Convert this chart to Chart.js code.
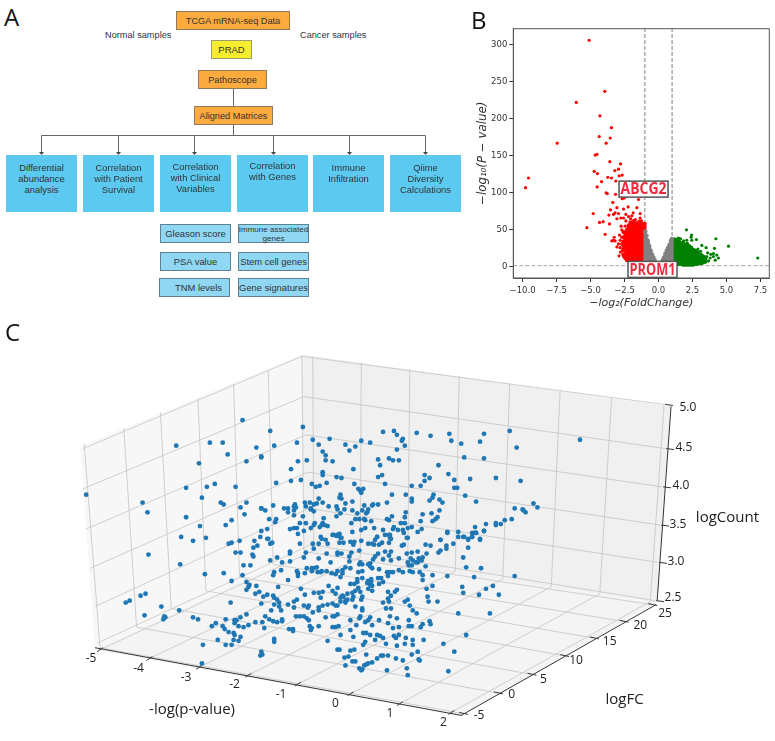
<!DOCTYPE html>
<html>
<head>
<meta charset="utf-8">
<title>Panels</title>
<script src="https://cdn.jsdelivr.net/npm/chart.js@4"></script>
<style>
  html, body { margin: 0; padding: 0; background: #fff; }
  #page { position: relative; width: 775px; height: 741px; overflow: hidden; font-family: "Liberation Sans", sans-serif; color: #333; }
  #page canvas { position: absolute; }
  .letter { position: absolute; font: 24px/24px "Open Sans", sans-serif; color: #111; }
  .box { position: absolute; box-sizing: border-box; display: flex; align-items: center; justify-content: center; text-align: center; white-space: nowrap; }
  .orange { background: #fdaa3e; border: 1px solid #8f7a5c; font-size: 9.2px; }
  .yellow { background: #f6ee2c; border: 1px solid #9c9c70; font-size: 9.5px; }
  .blue { background: #5bc9f0; font-size: 9.4px; line-height: 11px; align-items: flex-start; }
  .pale { background: #8fd7f3; border: 1px solid #5e8090; font-size: 9.4px; line-height: 9px; }
  .tiny { font-size: 8px; }
  .note { position: absolute; font-size: 9.2px; white-space: nowrap; }
  #links { position: absolute; left: 0; top: 0; }
</style>
</head>
<body>
<div id="page">
  <svg id="links" width="470" height="160"></svg>
  <canvas id="volcano" width="315" height="290" style="left:460px;top:20px"></canvas>
  <canvas id="cloud" width="775" height="421" style="left:0;top:320px"></canvas>
  <div class="letter" style="left:4px;top:5px">A</div>
  <div class="letter" style="left:471px;top:8px">B</div>
  <div class="letter" style="left:5px;top:320px">C</div>
</div>

<script>
/* ---------- Panel A: flow chart ---------- */
const flowTop = ['TCGA mRNA-seq Data', 'PRAD', 'Pathoscope', 'Aligned Matrices'];
const flowNotes = ['Normal samples', 'Cancer samples'];
const flowAnalyses = [
  'Differential<br>abundance<br>analysis',
  'Correlation<br>with Patient<br>Survival',
  'Correlation<br>with Clinical<br>Variables',
  'Correlation<br>with Genes',
  'Immune<br>Infiltration',
  'Qiime<br>Diversity<br>Calculations'
];
const flowClinical = ['Gleason score', 'PSA value', 'TNM levels'];
const flowGenes = ['Immune associated<br>genes', 'Stem cell genes', 'Gene signatures'];

/* ---------- Panel B: volcano values ---------- */
const xTickStep = 2.5;
const yTickStep = 50;
const foldCut = [-1, 1];
const pCut = 1.7;

// single red points above the dense block [log2FC, -log10 p]
const redOutliers = [
  [-5.10, 306], [-3.95, 237], [-6.05, 222], [-4.31, 204], [-3.46, 188], [-4.36, 176], [-3.55, 174],
  [-7.45, 167], [-3.85, 167], [-4.53, 152], [-4.66, 151], [-9.56, 120], [-9.78, 107], [-3.58, 142],
  [-2.79, 139], [-2.94, 132], [-3.21, 130], [-4.73, 129], [-4.49, 126], [-2.67, 124], [-3.73, 121],
  [-3.46, 120], [-2.89, 123], [-4.19, 115], [-3.14, 116], [-4.51, 108], [-3.85, 100], [-3.77, 99],
  [-3.16, 98], [-2.67, 92], [-2.52, 93], [-1.47, 91], [-3.36, 87], [-2.23, 81], [-3.06, 80],
  [-3.53, 77], [-4.80, 72], [-3.19, 73], [-2.57, 78], [-1.59, 80], [-1.86, 73], [-3.65, 70],
  [-3.31, 71], [-2.94, 72], [-2.40, 71], [-1.35, 72], [-5.27, 53], [-4.34, 60], [-4.07, 61],
  [-3.60, 58], [-3.06, 65], [-2.77, 66], [-2.57, 66], [-2.20, 68], [-1.96, 69], [-1.35, 66],
  [-3.92, 44], [-3.26, 40], [-3.43, 35], [-3.19, 35], [-2.82, 36], [-3.06, 27], [-2.82, 26],
  [-2.57, 14], [-2.90, 15], [-2.70, 50], [-2.87, 43], [-2.70, 40], [-2.45, 55], [-2.75, 55],
  [-2.95, 31], [-2.72, 31], [-2.65, 22], [-2.80, 20], [-3.32, 36], [-2.40, 62], [-2.05, 65],
  [-1.70, 64], [-1.25, 62]
];
// dense red block, per column: [log2FC, [-log10 p, ...]]
const redColumns = [
  [-1.02, [6, 10, 14, 18, 22, 26, 30, 34, 38, 42, 46, 50, 54, 58]],
  [-1.15, [6, 10, 14, 18, 22, 26, 30, 34, 38, 42, 46, 50, 54, 57]],
  [-1.28, [6, 10, 14, 18, 22, 26, 30, 34, 38, 42, 46, 50, 54, 58]],
  [-1.41, [6, 10, 14, 18, 22, 26, 30, 34, 38, 42, 46, 50, 54, 58, 61]],
  [-1.54, [6, 10, 14, 18, 22, 26, 30, 34, 38, 42, 46, 50, 54, 58]],
  [-1.67, [6, 10, 14, 18, 22, 26, 30, 34, 38, 42, 46, 50, 54, 59]],
  [-1.80, [6, 10, 14, 18, 22, 26, 30, 34, 38, 42, 46, 50, 54, 58, 62]],
  [-1.93, [7, 11, 15, 19, 23, 27, 31, 35, 39, 43, 47, 51, 55, 59]],
  [-2.06, [7, 11, 15, 19, 23, 27, 31, 35, 39, 43, 47, 51, 55, 60]],
  [-2.19, [8, 12, 16, 20, 24, 28, 32, 36, 40, 44, 48, 52, 56]],
  [-2.32, [9, 13, 17, 21, 25, 29, 33, 37, 41, 45, 50]],
  [-2.45, [12, 17, 22, 26, 30, 34, 38, 42, 46]],
  [-2.58, [17, 24, 29, 34, 40, 47]]
];
const greyColumns = [
  [-0.97, [6, 10, 14, 18, 22, 26, 30, 34, 38, 42, 46, 48]],
  [-0.87, [5, 9, 13, 17, 21, 25, 29, 33, 37, 42]],
  [-0.77, [4, 8, 12, 16, 20, 24, 28, 32, 35]],
  [-0.67, [4, 8, 12, 16, 20, 24, 28]],
  [-0.57, [3, 7, 11, 15, 19, 22]],
  [-0.47, [3, 7, 11, 14, 17]],
  [-0.37, [2, 6, 10, 13]],
  [-0.27, [2, 6, 9]],
  [-0.17, [2, 5]],
  [0.20, [2, 5]],
  [0.30, [2, 6, 9]],
  [0.40, [2, 6, 10, 13]],
  [0.50, [3, 7, 11, 15, 18]],
  [0.60, [3, 7, 11, 15, 19, 22]],
  [0.70, [3, 7, 11, 15, 19, 23, 26]],
  [0.80, [3, 7, 11, 15, 19, 23, 27, 30]],
  [0.90, [3, 7, 11, 15, 19, 23, 27, 31, 35]],
  [0.98, [3, 7, 11, 15, 19, 23, 27, 31, 35, 38]]
];
const greenOutliers = [
  [2.06, 50], [2.43, 43], [2.40, 40], [2.79, 37], [4.22, 38], [5.15, 28], [7.30, 12], [4.12, 25],
  [3.19, 29], [3.50, 26], [2.08, 36], [1.84, 35], [2.45, 36], [1.47, 39], [1.30, 36], [4.04, 18],
  [4.29, 16], [4.41, 12], [4.17, 9], [3.80, 12], [3.55, 14], [3.68, 8], [3.30, 7], [4.04, 14],
  [3.62, 19], [3.85, 17], [1.62, 38], [1.15, 38], [2.90, 24], [3.10, 21]
];
const greenColumns = [
  [1.05, [4, 8, 12, 16, 20, 24, 28, 32, 36]],
  [1.20, [4, 8, 12, 16, 20, 24, 28, 32, 36]],
  [1.35, [4, 8, 12, 16, 20, 24, 28, 32, 37]],
  [1.50, [4, 8, 12, 16, 20, 24, 28, 32, 35]],
  [1.65, [4, 8, 12, 16, 20, 24, 28, 32]],
  [1.80, [3, 7, 11, 15, 19, 23, 27, 31]],
  [1.95, [3, 7, 11, 15, 19, 23, 27, 30]],
  [2.10, [3, 7, 11, 15, 19, 23, 27, 31]],
  [2.25, [3, 7, 11, 15, 19, 23, 28]],
  [2.40, [3, 7, 11, 15, 19, 23, 26]],
  [2.55, [3, 7, 11, 15, 19, 23]],
  [2.70, [4, 8, 12, 16, 20, 22]],
  [2.85, [4, 8, 12, 16, 20]],
  [3.00, [5, 9, 13, 17]],
  [3.15, [5, 9, 13, 16]],
  [3.30, [6, 10, 14]],
  [3.45, [7, 11]]
];
const calloutNames = ['ABCG2', 'PROM1'];
const calloutFold = [-1.1, -0.44];
const calloutP = [105, -3.4];

/* ---------- Panel C: 3D scatter, as seen in the projected view ---------- */
const cloudPoints = [
  [174,444],[208,441],[221,441],[241,418],[255,446],[260,455],[226,453],[245,460],[197,462],[83,494],
  [184,487],[205,486],[213,483],[234,486],[200,497],[140,502],[219,502],[222,504],[245,502],[239,507],
  [145,512],[260,508],[243,514],[184,517],[230,520],[224,525],[198,526],
  [302,425],[269,429],[383,430],[394,429],[397,433],[417,431],[431,434],[450,432],[485,432],[511,429],
  [312,438],[329,437],[361,439],[370,441],[403,437],[402,439],[405,444],[452,439],[462,442],[481,440],
  [296,441],[273,444],[318,443],[345,443],[355,445],[518,446],[349,449],[397,448],[322,450],[325,454],
  [260,456],[389,457],[378,458],[393,459],[399,459],[465,456],[485,457],[306,459],[325,459],[332,460],
  [297,460],[380,464],[439,464],[290,468],[353,468],[322,471],[322,474],[425,474],[449,473],[382,474],
  [336,476],[341,477],[378,476],[430,477],[471,478],[497,477],[455,479],[425,480],[290,480],[300,479],
  [275,482],[311,483],[326,482],[354,483],[385,483],[315,486],[319,485],[412,485],[421,485],[455,487],
  [458,487],[358,488],[363,488],[360,490],[361,492],[392,494],[406,494],[340,494],[434,494],[466,495],
  [339,497],[341,498],[433,497],[318,498],[412,498],[412,501],[430,500],[440,499],[443,502],[477,501],
  [304,502],[309,502],[322,502],[352,501],[345,503],[316,503],[313,504],[387,502],[373,504],[378,504],
  [364,505],[372,505],[272,505],[294,504],[293,506],[295,507],[305,506],[310,508],[328,506],[336,506],
  [337,509],[283,508],[287,508],[260,508],[264,510],[293,510],[310,509],[313,511],[344,509],[352,510],
  [362,510],[368,509],[367,512],[516,508],[440,510],[287,512],[357,513],[366,513],[340,513],[336,516],
  [302,516],[293,515],[423,514],[432,513],[406,512],[392,516],[405,517],[438,517],[436,519],[433,521],
  [421,521],[387,519],[389,520],[355,519],[359,519],[364,519],[365,520],[371,521],[268,519],[275,519],
  [274,522],[323,518],[513,519],[506,520],[502,524],[497,523],[497,525],[487,524],[476,527],[351,523],
  [299,523],[305,523],[322,523],[314,523],[313,525],[321,525],[324,525],[327,526],[319,527],[310,528],
  [289,529],[293,528],[296,528],[303,531],[297,534],[266,529],[260,531],[374,528],[365,528],[361,530],
  [352,532],[383,530],[393,529],[394,527],[398,530],[403,530],[408,528],[412,527],[422,529],[418,532],
  [401,523],[405,523],[448,532],[459,532],[473,533],[477,533],[485,531],[389,535],[332,535],[336,536],
  [339,534],[320,537],[321,539],[341,538],[377,537],[407,538],[390,538],[441,540],[464,537],[469,539],
  [473,537],[481,539],[266,539],
  [582,438],[522,480],[535,503],[539,507],[524,509],[525,510],[527,512],
  [179,537],[191,541],[204,538],[227,544],[230,543],[238,541],[253,541],[259,537],[267,539],[256,546],
  [252,548],[269,544],[271,543],[299,544],[312,544],[318,544],[234,553],[239,553],[146,555],[251,555],
  [252,557],[289,552],[289,554],[305,553],[313,549],[276,558],[269,561],[281,563],[289,562],[303,558],
  [318,559],[242,566],[249,566],[178,565],[280,571],[306,569],[311,569],[313,569],[316,568],[296,572],
  [297,574],[311,572],[273,573],[272,576],[304,574],[203,575],[222,574],[241,576],[297,577],[317,573],
  [287,581],[230,582],[245,583],[248,586],[277,588],[247,588],[255,587],[245,591],[300,590],[258,593],
  [143,595],[138,597],[254,595],[266,596],[262,598],[272,597],[273,599],[276,601],[304,596],[313,594],
  [318,594],[127,602],[123,604],[229,604],[260,605],[273,606],[278,604],[287,606],[293,603],[296,601],
  [278,608],[303,607],[308,607],[307,609],[293,609],[318,609],[318,612],[159,608],[177,612],[270,612],
  [280,612],[312,614],[142,617],[162,618],[163,619],[161,621],[191,619],[196,621],[224,621],[245,616],
  [239,619],[235,622],[233,625],[233,622],[264,618],[268,621],[272,623],[276,624],[281,621],[281,623],
  [295,618],[299,618],[303,618],[306,620],[308,622],[261,624],[254,624],[247,627],[242,629],[237,628],
  [214,625],[210,628],[221,628],[223,631],[227,634],[232,635],[233,637],[263,630],[288,631],[292,631],
  [292,633],[309,628],[311,630],[310,632],[318,628],[239,639],[237,643],[232,642],[230,647],[224,647],
  [216,642],[201,647],[273,641],[273,644],[260,654],[261,657],[259,658],[200,666],
  [333,535],[337,535],[325,540],[327,544],[340,538],[343,543],[339,543],[350,542],[354,542],[361,541],
  [353,545],[368,544],[375,540],[377,537],[385,535],[390,535],[391,539],[389,543],[382,543],[379,545],
  [374,545],[372,544],[404,533],[408,538],[402,546],[404,545],[426,545],[431,546],[441,540],[448,533],
  [459,537],[465,537],[469,540],[473,537],[475,533],[477,533],[485,531],[481,540],[454,544],[469,548],
  [447,546],[447,549],[441,551],[439,553],[359,551],[351,553],[349,557],[337,553],[341,554],[337,555],
  [326,554],[391,552],[385,552],[389,556],[378,554],[375,557],[373,560],[383,560],[391,561],[399,559],
  [407,554],[412,553],[418,552],[427,554],[464,558],[411,559],[408,563],[413,561],[419,559],[422,561],
  [418,563],[416,563],[412,566],[409,566],[423,558],[426,567],[370,564],[368,565],[360,563],[362,565],
  [359,565],[349,562],[330,563],[370,567],[372,569],[379,570],[362,572],[358,573],[350,569],[345,568],
  [342,571],[337,572],[342,574],[326,572],[321,572],[320,573],[331,574],[335,575],[340,578],[387,573],
  [390,573],[393,573],[399,571],[403,573],[410,572],[413,573],[420,573],[423,576],[423,581],[433,576],
  [448,577],[467,568],[475,578],[482,569],[516,577],[388,577],[381,579],[378,579],[371,580],[368,582],
  [362,579],[357,580],[357,583],[354,585],[350,585],[371,583],[370,586],[367,584],[372,587],[379,585],
  [383,583],[368,590],[372,592],[358,589],[360,593],[355,592],[352,594],[347,595],[342,597],[343,598],
  [340,599],[335,595],[332,592],[337,589],[328,587],[322,593],[320,599],[397,591],[395,593],[388,593],
  [391,597],[388,600],[389,603],[383,604],[362,598],[361,601],[353,598],[352,601],[347,601],[345,602],
  [427,590],[433,587],[463,588],[464,594],[480,596],[487,590],[494,587],[500,596],[428,598],[429,603],
  [438,603],[408,601],[405,603],[340,603],[332,605],[327,606],[322,607],[335,607],[337,607],[345,604],
  [355,608],[362,610],[362,612],[386,610],[391,610],[410,607],[413,612],[417,615],[459,615],[491,615],
  [337,616],[334,618],[332,618],[325,619],[360,618],[359,620],[370,619],[368,622],[350,622],[365,624],
  [372,627],[379,622],[390,618],[397,620],[409,622],[409,628],[388,625],[393,630],[399,629],[412,628],
  [421,629],[423,626],[430,623],[431,626],[332,629],[335,629],[338,628],[356,627],[350,632],[327,643],
  [340,637],[353,639],[363,635],[366,635],[370,637],[377,637],[380,638],[383,640],[375,642],[365,644],
  [363,647],[386,646],[394,638],[399,637],[396,640],[406,640],[413,642],[424,642],[397,648],[405,646],
  [413,647],[467,637],[444,646],[455,654],[337,652],[339,652],[350,653],[354,652],[348,659],[344,660],
  [366,657],[381,658],[383,658],[388,658],[377,661],[396,661],[412,657],[418,654],[419,662],[420,663],
  [403,663],[352,664],[355,664],[345,668],[372,665],[368,666],[366,667],[364,668],[359,671],[362,672],
  [361,673],[387,673],[407,671],[408,678],[449,674]
];
const pValueTicks = ['-5', '-4', '-3', '-2', '-1', '0', '1', '2'];
const logFcTicks = ['-5', '0', '5', '10', '15', '20', '25'];
const logCountTicks = ['5.0', '4.5', '4.0', '3.5', '3.0', '2.5'];

// box geometry in the projected view
const leftWall = [[77,445],[301,351],[303,552],[92,652]];
const backWall = [[301,351],[674,404],[660,604],[303,552]];
const floorPane = [[92,652],[303,552],[660,604],[462,719]];
const wallTopLeft = [[81,442],[121,426],[158,410],[196,396],[232,381],[267,368],[301,353]];
const wallFootLeft = [[97,650],[134,629],[169,610],[204,592],[238,578],[272,565],[303,552]];
const wallTopBack = [[312,353],[361,359],[410,366],[460,373],[511,381],[562,387],[614,395],[667,402]];
const wallFootBack = [[313,551],[360,558],[408,565],[456,572],[504,580],[553,588],[602,595],[653,603]];
const frontTicksP = [[97,652],[147,661],[197,670],[247,678],[297,687],[350,697],[400,707],[452,716]];
const frontTicksFc = [[463,717],[498,696],[532,677],[565,658],[595,640],[625,623],[654,606]];
const levelLeft = [[80,447],[80,488],[83,529],[87,569],[92,608],[95,645]];
const levelCorner = [[301,353],[303,394],[305,433],[307,471],[308,508],[310,545]];
const levelRight = [[667,402],[668,447],[665,486],[663,525],[661,563],[658,602]];
const pLabelAt = [[88,661],[136,671],[184,680],[233,688],[280,698],[335,707],[390,717],[444,726]];
const fcLabelAt = [[480,719],[513,698],[545,682],[578,663],[612,644],[643,627],[668,615]];
const countLabelAt = [[691,405],[687,446],[684,485],[681,524],[679,562],[676,599]];
const axisTitles = [['-log(p-value)', 190, 713], ['logFC', 627, 703], ['logCount', 731, 517]];

function expand(columns) {
  return columns.flatMap(c => c[1].map(y => ({ x: c[0], y: y })));
}
function pairs(list) {
  return list.map(p => ({ x: p[0], y: p[1] }));
}

/* ---------- draw panel A ---------- */
function addBox(cls, html, left, top, w, h) {
  const d = document.createElement('div');
  d.className = 'box ' + cls;
  d.style.cssText = `left:${left}px;top:${top}px;width:${w}px;height:${h}px`;
  d.innerHTML = html;
  document.getElementById('page').appendChild(d);
  return d;
}
function renderFlow() {
  addBox('orange', flowTop[0], 176, 11, 114, 19);
  addBox('yellow', flowTop[1], 211, 40, 41, 19);
  addBox('orange', flowTop[2], 198, 70, 69, 19);
  addBox('orange', flowTop[3], 194, 106, 79, 19);

  [[105, 29.5], [300, 29.5]].forEach((pos, i) => {
    const n = document.createElement('div');
    n.className = 'note';
    n.style.left = pos[0] + 'px';
    n.style.top = pos[1] + 'px';
    n.textContent = flowNotes[i];
    document.getElementById('page').appendChild(n);
  });

  const blueLeft = [6, 83, 160, 237, 313, 390];
  const bluePad = [6.5, 6.5, 6, 5, 7, 7];
  flowAnalyses.forEach((t, i) => {
    addBox('blue', t, blueLeft[i], 155, 71, 57).style.paddingTop = bluePad[i] + 'px';
  });

  const rowTop = [224, 252, 278];
  flowClinical.forEach((t, i) => {
    const b = addBox('pale', t, i == 2 ? 159 : 160, rowTop[i], 71, 19);
    if (i == 2) b.style.paddingLeft = '8px';
  });
  flowGenes.forEach((t, i) => {
    const b = addBox('pale', t, 238, rowTop[i], 71, 19);
    if (i == 0) b.classList.add('tiny');
  });

  // connectors
  const arrowX = [41.5, 118.5, 194.5, 273.5, 349.5, 425.5];
  let svg = '<path d="M233.5 89V106M233.5 125V135.5M41.5 135.5H425.5" stroke="#666" fill="none"/>';
  arrowX.forEach(x => {
    svg += `<path d="M${x} 135.5V152" stroke="#666" fill="none"/><path d="M${x - 2.5} 152H${x + 2.5}L${x} 155Z" fill="#444"/>`;
  });
  document.getElementById('links').innerHTML = svg;
}

/* ---------- draw panel B ---------- */
const frameAndCallouts = {
  id: 'frameAndCallouts',
  afterDraw(chart) {
    const ctx = chart.ctx, a = chart.chartArea;
    ctx.save();
    ctx.strokeStyle = '#555';
    ctx.lineWidth = 1;
    ctx.strokeRect(a.left, a.top, a.right - a.left, a.bottom - a.top);
    calloutNames.forEach((name, i) => {
      const cx = chart.scales.x.getPixelForValue(calloutFold[i]);
      const cy = chart.scales.y.getPixelForValue(calloutP[i]);
      ctx.fillStyle = '#fff';
      ctx.strokeStyle = '#555';
      ctx.lineWidth = 1.5;
      ctx.fillRect(cx - 24.5, cy - 8, 49, 16);
      ctx.strokeRect(cx - 24.5, cy - 8, 49, 16);
      ctx.fillStyle = '#ee2a3c';
      ctx.font = 'bold 16.5px "Open Sans"';
      ctx.textAlign = 'center';
      ctx.textBaseline = 'middle';
      ctx.fillText(name, cx, cy + 0.5, 46);
    });
    ctx.restore();
  }
};

function dashed(points, color) {
  return { data: pairs(points), showLine: true, pointRadius: 0, borderColor: color, borderWidth: 1, borderDash: [4, 2] };
}

function renderVolcano() {
  const tickFont = { family: 'DejaVu Sans', size: 8.5 };
  new Chart(document.getElementById('volcano'), {
    type: 'scatter',
    plugins: [frameAndCallouts],
    data: {
      datasets: [
        { data: expand(greyColumns), backgroundColor: '#808080', pointRadius: 2.1, borderWidth: 0 },
        { data: expand(greenColumns), backgroundColor: '#008000', pointRadius: 2.1, borderWidth: 0 },
        { data: pairs(greenOutliers), backgroundColor: '#008000', pointRadius: 1.6, borderWidth: 0 },
        { data: expand(redColumns), backgroundColor: '#ff0000', pointRadius: 2.1, borderWidth: 0 },
        { data: pairs(redOutliers), backgroundColor: '#ff0000', pointRadius: 1.6, borderWidth: 0 },
        dashed([[foldCut[0], -15], [foldCut[0], 322]], '#808080'),
        dashed([[foldCut[1], -15], [foldCut[1], 322]], '#808080'),
        dashed([[-10.68, pCut], [8.15, pCut]], '#a8a8a8')
      ]
    },
    options: {
      responsive: false,
      animation: false,
      layout: { padding: { top: 8.7, right: 5.7, left: 0, bottom: 0 } },
      plugins: { legend: { display: false }, tooltip: { enabled: false } },
      scales: {
        x: {
          min: -10.68, max: 8.15,
          afterFit: s => { s.height = 32; },
          grid: { drawOnChartArea: false, tickLength: 4, tickColor: '#333' },
          border: { color: '#555' },
          ticks: {
            stepSize: xTickStep, includeBounds: false, autoSkip: false, maxRotation: 0, padding: 4,
            color: '#333', font: tickFont,
            callback: v => v.toFixed(1).replace('-', '\u2212')
          },
          title: { display: true, text: '\u2212log\u2082(FoldChange)', color: '#333', padding: 0, font: { family: 'DejaVu Sans', size: 11, style: 'italic' } }
        },
        y: {
          min: -15, max: 321.6,
          afterFit: s => { s.width = 53.3; },
          grid: { drawOnChartArea: false, tickLength: 4, tickColor: '#333' },
          border: { color: '#555' },
          ticks: {
            stepSize: yTickStep, includeBounds: false, autoSkip: false, padding: 2,
            color: '#333', font: tickFont,
            callback: v => String(v)
          },
          title: { display: true, text: '\u2212log\u2081\u2080(P \u2212 value)', color: '#333', padding: { top: 16, bottom: 0 }, font: { family: 'DejaVu Sans', size: 11.8, style: 'italic' } }
        }
      }
    }
  });
}

/* ---------- draw panel C ---------- */
const box3d = {
  id: 'box3d',
  beforeDatasetsDraw(chart) {
    const ctx = chart.ctx;
    const px = p => [chart.scales.x.getPixelForValue(p[0]), chart.scales.y.getPixelForValue(p[1])];
    const pane = (corners, color) => {
      ctx.beginPath();
      corners.forEach((c, i) => {
        const q = px(c);
        i ? ctx.lineTo(q[0], q[1]) : ctx.moveTo(q[0], q[1]);
      });
      ctx.closePath();
      ctx.fillStyle = color;
      ctx.fill();
    };
    const lines = (from, to) => {
      from.forEach((f, i) => {
        const a = px(f), b = px(to[i]);
        ctx.beginPath();
        ctx.moveTo(a[0], a[1]);
        ctx.lineTo(b[0], b[1]);
        ctx.stroke();
      });
    };
    ctx.save();
    pane(leftWall, '#f7f7f7');
    pane(backWall, '#f0f0f0');
    pane(floorPane, '#f4f4f4');
    ctx.strokeStyle = '#c4c4c4';
    ctx.lineWidth = 0.8;
    lines(wallTopLeft, wallFootLeft);
    lines(wallTopBack, wallFootBack);
    lines(frontTicksP, wallFootBack);
    lines(frontTicksFc, wallFootLeft);
    lines(levelLeft, levelCorner);
    lines(levelCorner, levelRight);
    ctx.restore();
  },
  afterDatasetsDraw(chart) {
    const ctx = chart.ctx;
    const px = p => [chart.scales.x.getPixelForValue(p[0]), chart.scales.y.getPixelForValue(p[1])];
    ctx.save();
    // axis lines and tick marks
    ctx.strokeStyle = '#333';
    ctx.lineWidth = 1;
    const seg = (a, b) => {
      const s = px(a), e = px(b);
      ctx.beginPath();
      ctx.moveTo(s[0], s[1]);
      ctx.lineTo(e[0], e[1]);
      ctx.stroke();
    };
    seg([92, 650], [462, 719]);
    seg([462, 719], [659, 606]);
    seg([674, 404], [660, 602]);
    frontTicksP.forEach(t => seg([t[0] - 3, t[1] + 2], [t[0] + 3, t[1] - 2]));
    frontTicksFc.forEach(t => seg([t[0] - 3, t[1] - 1], [t[0] + 6, t[1] + 1]));
    levelRight.forEach(t => seg([t[0] + 1, t[1]], [t[0] + 9, t[1] + 1]));

    ctx.fillStyle = '#222';
    ctx.textAlign = 'center';
    ctx.textBaseline = 'middle';
    ctx.font = '12px "Open Sans"';
    const labels = (texts, at) => texts.forEach((t, i) => {
      const q = px(at[i]);
      ctx.fillText(t, q[0], q[1]);
    });
    labels(pValueTicks, pLabelAt);
    labels(logFcTicks, fcLabelAt);
    labels(logCountTicks, countLabelAt);
    ctx.font = '15px "Open Sans"';
    axisTitles.forEach(t => {
      const q = px([t[1], t[2]]);
      ctx.fillText(t[0], q[0], q[1]);
    });
    ctx.restore();
  }
};

function renderCloud() {
  new Chart(document.getElementById('cloud'), {
    type: 'scatter',
    plugins: [box3d],
    data: {
      datasets: [{ data: pairs(cloudPoints), backgroundColor: '#1f77b4', pointRadius: 2.4, borderWidth: 0, clip: false }]
    },
    options: {
      responsive: false,
      animation: false,
      layout: { padding: 0 },
      plugins: { legend: { display: false }, tooltip: { enabled: false } },
      scales: {
        x: { display: false, min: 0, max: 775 },
        y: { display: false, min: 320, max: 741, reverse: true }
      }
    }
  });
}

renderFlow();
renderVolcano();
renderCloud();
</script>
</body>
</html>
